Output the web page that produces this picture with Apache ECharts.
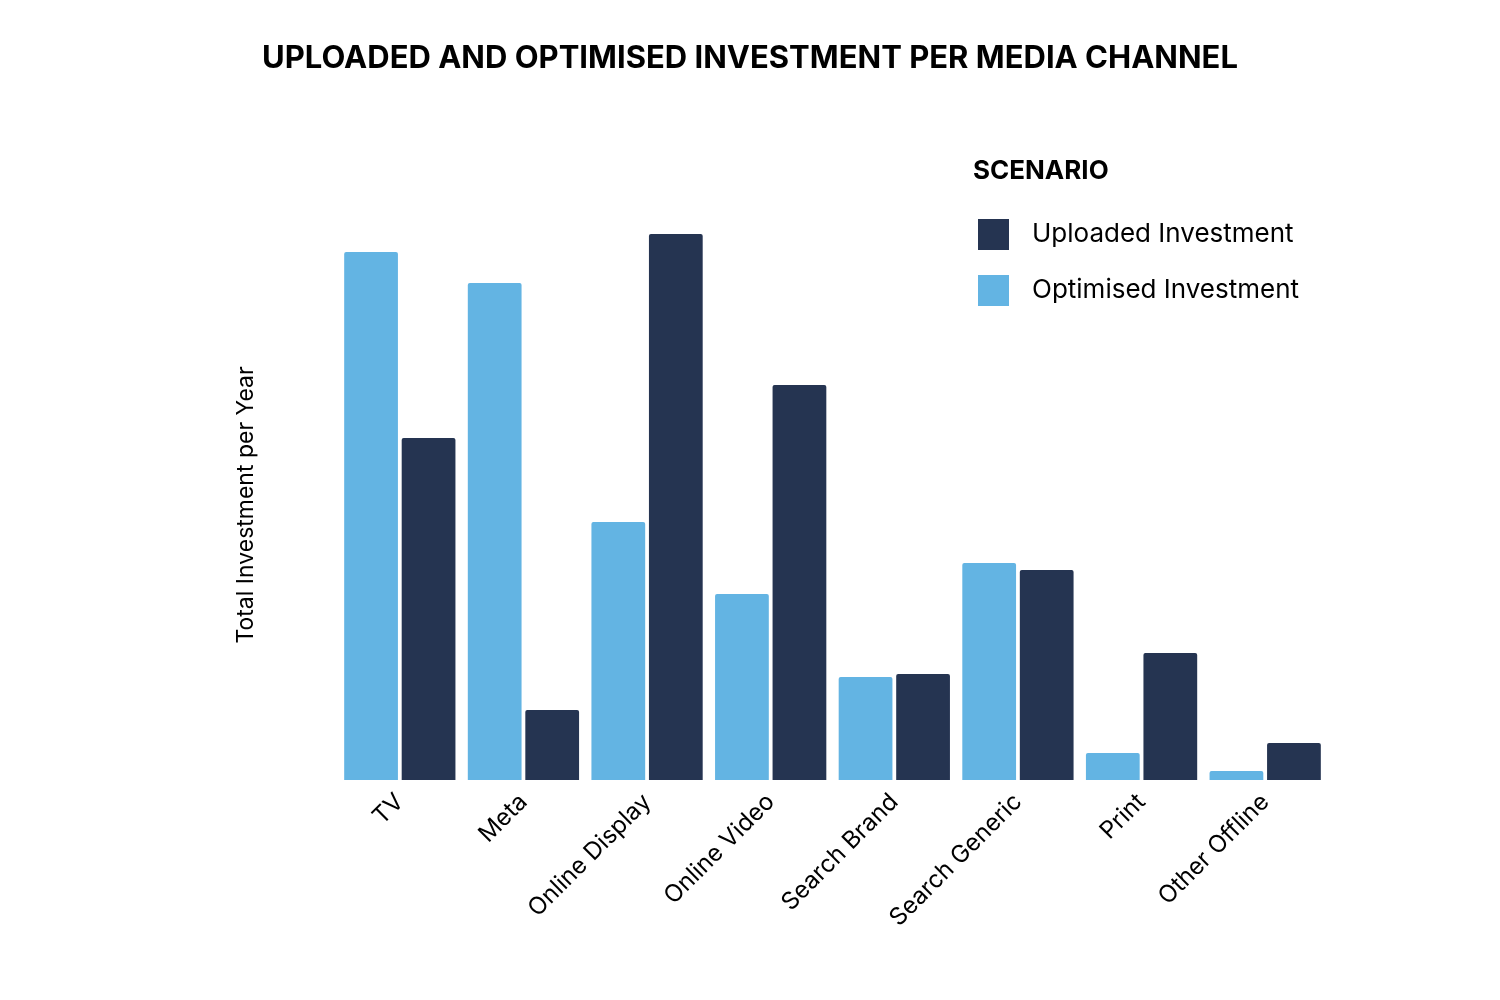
<!DOCTYPE html>
<html>
<head>
<meta charset="utf-8">
<script src="https://cdn.jsdelivr.net/npm/echarts@6/dist/echarts.min.js"></script>
<style>html,body{margin:0;padding:0;background:#fff}#chart{width:1500px;height:1000px}</style>
</head>
<body>
<div id="chart"></div>
<script>
var channels = ['TV', 'Meta', 'Online Display', 'Online Video', 'Search Brand', 'Search Generic', 'Print', 'Other Offline'];
var optimised = [528, 497, 258, 186, 103, 217, 27, 9];
var uploaded = [342, 70, 546, 395, 106, 210, 127, 37];

var chart = echarts.init(document.getElementById('chart'));
chart.setOption({
  backgroundColor: '#fff',
  textStyle: {fontFamily: 'Inter'},
  title: {
    text: 'UPLOADED AND OPTIMISED INVESTMENT PER MEDIA CHANNEL',
    left: 'center', top: 38,
    textStyle: {fontSize: 31, fontWeight: 'bold', color: '#000', fontFamily: 'Inter'}
  },
  graphic: [{
    type: 'text', left: 973, top: 158,
    style: {text: 'SCENARIO', fontSize: 26, fontWeight: 'bold', fill: '#000', fontFamily: 'Inter'}
  }],
  legend: {
    data: ['Uploaded Investment', 'Optimised Investment'],
    orient: 'vertical', left: 973, top: 214,
    itemWidth: 31, itemHeight: 31, itemGap: 25,
    icon: 'rect',
    textStyle: {fontSize: 26, color: '#000', padding: [0, 0, 0, 18]}
  },
  grid: {left: 338, right: 173, top: 230, bottom: 220},
  xAxis: {
    type: 'category', data: channels,
    axisLine: {show: false}, axisTick: {show: false},
    axisLabel: {rotate: 45, fontSize: 24, color: '#000', margin: 18, interval: 0}
  },
  yAxis: {
    type: 'value', min: 0, max: 550,
    name: 'Total Investment per Year', nameLocation: 'middle', nameGap: 80,
    nameTextStyle: {fontSize: 23, color: '#000'},
    axisLabel: {show: false}, axisLine: {show: false}, axisTick: {show: false},
    splitLine: {show: false}
  },
  series: [{
    name: 'Optimised Investment', type: 'bar', data: optimised,
    itemStyle: {color: '#63b4e3', borderRadius: [2, 2, 0, 0]},
    barCategoryGap: '10%', barGap: '7%'
  }, {
    name: 'Uploaded Investment', type: 'bar', data: uploaded,
    itemStyle: {color: '#253451', borderRadius: [2, 2, 0, 0]}
  }]
});
</script>
</body>
</html>
